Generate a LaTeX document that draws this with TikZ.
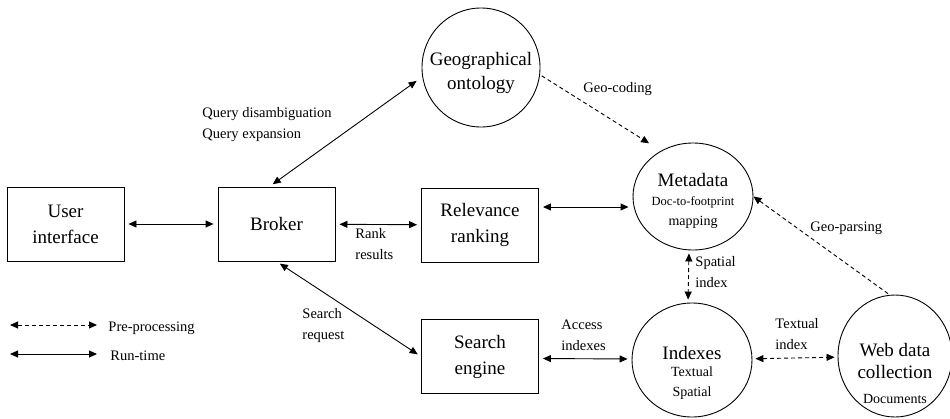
\documentclass[tikz,border=0pt]{standalone}
\usepackage{fontspec}
\setmainfont{Liberation Serif}
\usetikzlibrary{shapes.geometric,arrows.meta,positioning}

\newcommand{\boxfont}{\fontsize{19}{26}\selectfont}
\newcommand{\roundfont}{\fontsize{19}{19}\selectfont}
\newcommand{\subfont}{\fontsize{14}{19}\selectfont}
\newcommand{\lblfont}{\fontsize{14.5}{21}\selectfont}

\begin{document}
\begin{tikzpicture}[x=1pt, y=-1pt, line width=0.9pt,
    >={Triangle[length=8pt,width=7pt]},
    box/.style={draw, rectangle, minimum width=117pt, minimum height=74pt, inner sep=0pt, align=center, font=\boxfont},
    round/.style={draw, ellipse, inner sep=0pt},
    intext/.style={align=center, font=\roundfont, inner sep=0pt},
    lbl/.style={anchor=west, align=left, font=\lblfont, inner sep=0pt},
    preproc/.style={dash pattern=on 4pt off 3pt}]
   \useasboundingbox (0,0) rectangle (950,418);
   % boxes
   \node (ui) [box] at (65.5,224) {User\\interface};
   \node (broker) [box] at (276.5,224) {Broker};
   \node (relev) [box] at (480,225) {Relevance\\ranking};
   \node (search) [box] at (480,356.5) {Search\\engine};
   % circles
   \node (geo) [round, minimum width=118pt, minimum height=119pt,
      label={[intext, yshift=-5.8pt]center:{Geographical\\[5pt]ontology}}] at (481,67.5) {};
   \node (meta) [round, minimum width=120pt, minimum height=107pt,
      label={[intext, yshift=-4.8pt]center:{Metadata\\ \fontsize{12.5}{19}\selectfont Doc-to-footprint\\[1pt] \subfont mapping}}] at (693,196.5) {};
   \node (idx) [round, minimum width=120pt, minimum height=114pt,
      label={[intext, yshift=-13.3pt]center:{Indexes\\[-2pt] \subfont Textual\\[1pt] \subfont Spatial}}] at (692,360) {};
   \node (web) [round, minimum width=114pt, minimum height=122pt,
      label={[intext, yshift=-17pt]center:{Web data\\[3pt]collection\\[6pt] \subfont Documents}}] at (895,356) {};
   % run-time
   \begin{scope}[every edge/.style={draw, <->, shorten >=4pt, shorten <=4pt}]
    \draw (ui) edge (broker);
    \draw (broker) edge (relev);
    \draw ([yshift=18pt]relev.east) edge ([yshift=-10.5pt]meta.west);
    \draw ([xshift=-7pt]broker.north) edge [shorten >=7pt] (geo.189);
    \draw (broker.south) edge (search.west);
    \draw ([yshift=-2pt]search.east) edge ([yshift=1pt]idx.west);
   \end{scope}
   % pre-processing
   \begin{scope}[every edge/.style={draw, preproc, shorten >=3pt, shorten <=3pt}]
    \draw ([xshift=-4pt]meta.south) edge [<->] ([xshift=-4pt]idx.north);
    \draw (idx) edge [<->] (web);
    \draw (geo.-7) edge [->, shorten >=14pt, shorten <=2pt] (meta.125);
    \draw (web.95) edge [->, shorten >=0pt, shorten <=2pt] (meta.east);
   \end{scope}
   % labels
   \node (lquery) [lbl] at (202,125) {Query disambiguation\\Query expansion};
   \node (lcoding) [lbl] at (583,89) {Geo-coding};
   \node (lrank) [lbl] at (355,244) {Rank\\results};
   \node (lsearch) [lbl] at (302,326) {Search\\request};
   \node (laccess) [lbl] at (561,335) {Access\\indexes};
   \node (lspatial) [lbl] at (695,272) {Spatial\\index};
   \node (ltextual) [lbl] at (775,334) {Textual\\index};
   \node (lparsing) [lbl] at (810,228) {Geo-parsing};
   % legend
   \coordinate (pre1) at (10,325);
   \coordinate (pre2) at (97,325);
   \coordinate (run1) at (10,354);
   \coordinate (run2) at (97,354);
   \draw [<->, preproc] (pre1) -- (pre2);
   \draw [<->] (run1) -- (run2);
   \node (lpre) [lbl] at (108,328) {Pre-processing};
   \node (lrun) [lbl] at (110,356) {Run-time};
\end{tikzpicture}
\end{document}
